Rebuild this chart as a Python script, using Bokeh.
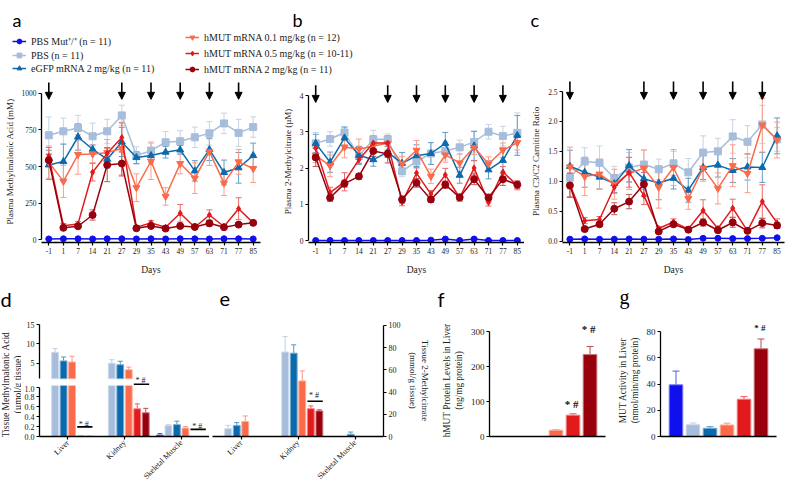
import math
from bokeh.plotting import figure
from bokeh.models import (ColumnDataSource, Whisker, TeeHead, Arrow, NormalHead, Legend,
                          LegendItem, FactorRange, Range1d, FixedTicker, PrintfTickFormatter, Label)
from bokeh.layouts import row, column
from bokeh.embed import file_html
from bokeh.resources import INLINE
from bokeh.core.properties import value

# ------------------------------------------------------------------ data
days = ["-1", "1", "7", "14", "21", "27", "29", "35", "43", "49", "57", "63", "71", "77", "85"]
dose_days = ["-1", "27", "35", "49", "63", "77"]
series_keys = ["mut", "pbs", "egfp", "h01", "h05", "h2"]
series_labels = ["PBS Mut\u207a/\u207a (n = 11)", "PBS (n = 11)", "eGFP mRNA 2 mg/kg (n = 11)",
                 "hMUT mRNA 0.1 mg/kg (n = 12)", "hMUT mRNA 0.5 mg/kg (n = 10-11)",
                 "hMUT mRNA 2 mg/kg (n = 11)"]

# (a) plasma methylmalonic acid
mma_mut = [4, 5, 5, 4, 5, 5, 4, 5, 4, 5, 5, 4, 5, 5, 4]
mma_pbs = [714, 741, 764, 707, 741, 850, 575, 609, 666, 673, 700, 727, 795, 730, 770]
mma_egfp = [511, 534, 702, 618, 550, 668, 561, 575, 598, 614, 470, 616, 459, 491, 575]
mma_h01 = [530, 398, 582, 586, 595, 623, 355, 536, 295, 520, 420, 602, 386, 532, 486]
mma_h05 = [570, 95, 107, 461, 590, 698, 84, 114, 84, 180, 84, 168, 89, 211, 114]
mma_h2 = [543, 80, 91, 168, 511, 520, 77, 93, 75, 93, 86, 111, 84, 102, 114]
mma_err_mut = [2, 2, 2, 2, 2, 2, 2, 2, 2, 2, 2, 2, 2, 2, 2]
mma_err_pbs = [125, 90, 86, 90, 82, 70, 60, 60, 73, 72, 70, 80, 70, 93, 70]
mma_err_egfp = [100, 120, 90, 30, 60, 100, 40, 50, 40, 30, 70, 75, 85, 105, 85]
mma_err_h01 = [110, 110, 135, 60, 90, 180, 95, 125, 60, 70, 105, 95, 85, 85, 95]
mma_err_h05 = [60, 15, 15, 60, 40, 100, 10, 15, 10, 60, 10, 35, 10, 75, 15]
mma_err_h2 = [40, 10, 10, 35, 115, 85, 8, 10, 8, 10, 8, 20, 8, 10, 10]

# (b) plasma 2-methylcitrate
mc_mut = [0.0, 0.0, 0.0, 0.0, 0.0, 0.0, 0.0, 0.0, 0.01, 0.04, 0.0, 0.04, 0.0, 0.0, 0.0]
mc_pbs = [2.68, 2.80, 2.98, 2.33, 2.79, 2.79, 1.91, 2.18, 2.40, 2.47, 2.57, 2.72, 3.00, 2.88, 2.97]
mc_egfp = [2.68, 2.16, 2.83, 2.35, 2.23, 2.44, 2.13, 2.34, 2.40, 2.68, 1.80, 2.61, 1.95, 2.21, 2.90]
mc_h01 = [2.35, 2.06, 2.58, 2.52, 2.61, 2.68, 2.12, 2.49, 1.77, 2.36, 2.14, 2.57, 2.11, 2.49, 2.70]
mc_h05 = [2.55, 1.32, 1.62, 2.23, 2.69, 2.69, 1.06, 1.86, 1.28, 1.81, 1.18, 2.00, 1.05, 1.89, 1.52]
mc_h2 = [2.29, 1.18, 1.57, 1.77, 2.47, 2.39, 1.13, 1.59, 1.13, 1.54, 1.19, 1.69, 1.18, 1.69, 1.54]
mc_err_mut = [0.01, 0.01, 0.01, 0.01, 0.01, 0.01, 0.01, 0.01, 0.01, 0.02, 0.01, 0.02, 0.01, 0.01, 0.01]
mc_err_pbs = [0.3, 0.2, 0.15, 0.2, 0.25, 0.15, 0.15, 0.2, 0.3, 0.25, 0.2, 0.3, 0.2, 0.27, 0.55]
mc_err_egfp = [0.25, 0.28, 0.3, 0.25, 0.18, 0.15, 0.3, 0.3, 0.3, 0.3, 0.22, 0.4, 0.25, 0.35, 0.55]
mc_err_h01 = [0.2, 0.3, 0.3, 0.28, 0.2, 0.2, 0.2, 0.27, 0.2, 0.2, 0.25, 0.2, 0.2, 0.2, 0.2]
mc_err_h05 = [0.2, 0.15, 0.25, 0.1, 0.2, 0.2, 0.1, 0.15, 0.1, 0.18, 0.1, 0.2, 0.1, 0.15, 0.12]
mc_err_h2 = [0.25, 0.1, 0.1, 0.08, 0.15, 0.25, 0.1, 0.12, 0.08, 0.1, 0.08, 0.15, 0.1, 0.17, 0.1]

# (c) plasma C3/C2 carnitine ratio
cr_mut = [0.03, 0.035, 0.03, 0.03, 0.035, 0.03, 0.03, 0.035, 0.025, 0.045, 0.045, 0.04, 0.04, 0.045, 0.055]
cr_pbs = [1.06, 1.33, 1.31, 1.05, 1.23, 1.28, 1.20, 1.30, 1.15, 1.48, 1.50, 1.75, 1.66, 1.95, 1.70]
cr_egfp = [1.25, 1.15, 1.07, 0.96, 1.26, 1.04, 0.97, 1.05, 0.85, 1.23, 1.27, 1.18, 1.24, 1.23, 1.76]
cr_h01 = [1.24, 1.08, 1.12, 0.95, 1.13, 1.22, 0.90, 1.23, 0.71, 1.22, 0.88, 1.26, 1.13, 1.94, 1.69]
cr_h05 = [0.94, 0.34, 0.36, 0.90, 1.15, 0.76, 0.21, 0.32, 0.20, 0.51, 0.21, 0.55, 0.17, 0.66, 0.30]
cr_h2 = [0.93, 0.20, 0.28, 0.54, 0.66, 0.95, 0.16, 0.28, 0.19, 0.31, 0.18, 0.31, 0.17, 0.30, 0.26]
cr_err_mut = [0.005, 0.005, 0.005, 0.005, 0.005, 0.005, 0.005, 0.005, 0.005, 0.01, 0.01, 0.01, 0.01, 0.01, 0.01]
cr_err_pbs = [0.2, 0.23, 0.28, 0.2, 0.25, 0.25, 0.17, 0.2, 0.23, 0.28, 0.22, 0.28, 0.27, 0.32, 0.2]
cr_err_egfp = [0.27, 0.25, 0.2, 0.15, 0.27, 0.17, 0.28, 0.18, 0.2, 0.2, 0.2, 0.2, 0.22, 0.25, 0.3]
cr_err_h01 = [0.33, 0.32, 0.25, 0.25, 0.27, 0.3, 0.35, 0.3, 0.18, 0.22, 0.26, 0.35, 0.32, 0.45, 0.3]
cr_err_h05 = [0.2, 0.05, 0.05, 0.1, 0.25, 0.15, 0.03, 0.05, 0.03, 0.18, 0.03, 0.15, 0.02, 0.28, 0.07]
cr_err_h2 = [0.2, 0.03, 0.03, 0.1, 0.12, 0.2, 0.03, 0.04, 0.03, 0.06, 0.03, 0.08, 0.02, 0.08, 0.05]

# (d) tissue methylmalonic acid, per tissue
tissues = ["Liver", "Kidney", "Skeletal Muscle"]
tmma_mut = [0.0, 0.0, 0.03]
tmma_pbs = [7.8, 5.0, 0.22]
tmma_egfp = [5.6, 4.6, 0.24]
tmma_h01 = [5.3, 3.3, 0.17]
tmma_h05 = [0.012, 0.56, 0.0]
tmma_h2 = [0.006, 0.48, 0.0]
tmma_err_mut = [0.0, 0.0, 0.03]
tmma_err_pbs = [1.0, 0.9, 0.02]
tmma_err_egfp = [1.0, 0.9, 0.07]
tmma_err_h01 = [1.5, 0.7, 0.03]
tmma_err_h05 = [0.0, 0.1, 0.0]
tmma_err_h2 = [0.0, 0.09, 0.0]

# (e) tissue 2-methylcitrate
tmc_mut = [0.0, 0.0, 0.0]
tmc_pbs = [7.0, 76.0, 0.0]
tmc_egfp = [10.0, 75.0, 2.0]
tmc_h01 = [13.5, 50.0, 0.0]
tmc_h05 = [0.0, 25.0, 0.0]
tmc_h2 = [0.0, 23.0, 0.0]
tmc_err_mut = [0.0, 0.0, 0.0]
tmc_err_pbs = [3.0, 14.0, 0.0]
tmc_err_egfp = [2.5, 7.5, 2.0]
tmc_err_h01 = [5.0, 9.0, 0.0]
tmc_err_h05 = [0.0, 2.5, 0.0]
tmc_err_h2 = [0.0, 1.0, 0.0]

# (f) hMUT protein in liver (ng/mg protein), (g) MUT activity (nmol/min/mg protein)
protein = [0.0, 0.0, 0.0, 18.0, 61.0, 234.0]
protein_err = [0.0, 0.0, 0.0, 1.5, 4.0, 23.0]
activity = [39.5, 9.0, 6.3, 8.8, 28.5, 67.0]
activity_err = [10.5, 1.3, 1.2, 1.4, 2.0, 7.5]
sig_text = "*  #"

# ------------------------------------------------------------------ styles
SERIF = "Liberation Serif"
SANS = "Lato"
colors = dict(mut="#1010ee", pbs="#a6bddb", egfp="#0b6aad", h01="#fb6a4a", h05="#e31a1c", h2="#99000d")
markers = dict(mut="circle", pbs="square", egfp="triangle", h01="inverted_triangle", h05="diamond", h2="circle")
msizes = dict(mut=6, pbs=7, egfp=7, h01=7, h05=6, h2=7)


def tint(hexc, f):
    h = hexc.lstrip("#")
    rgb = [int(h[i:i + 2], 16) for i in (0, 2, 4)]
    rgb = [int(c + (255 - c) * f) for c in rgb]
    return "#%02x%02x%02x" % tuple(rgb)


def style(p, tick_px="7.5px", label_px="9px"):
    p.grid.visible = False
    p.outline_line_color = None
    for ax in p.axis:
        ax.axis_line_color = "black"
        ax.axis_line_width = 1.3
        ax.major_tick_line_color = "black"
        ax.major_tick_line_width = 1.2
        ax.major_tick_in = 0
        ax.major_tick_out = 3
        ax.minor_tick_line_color = None
        ax.major_label_text_font = SERIF
        ax.major_label_text_font_size = tick_px
        ax.major_label_text_color = "#222222"
        ax.major_label_standoff = 2
        ax.axis_label_text_font = SERIF
        ax.axis_label_text_font_size = label_px
        ax.axis_label_text_font_style = "normal"
        ax.axis_label_text_color = "#222222"
        ax.axis_label_standoff = 4


def blank_fig(w, h, left=0, top=0):
    f = figure(width=w, height=h, x_range=Range1d(0, w), y_range=Range1d(0, h),
               output_backend="svg", toolbar_location=None, min_border=0,
               min_border_left=left, min_border_top=top,
               x_axis_location=None, y_axis_location=None)
    f.grid.visible = False
    f.outline_line_color = None
    return f


def whisker(p, base, y, err, color, both=True, head=6, width=1.0):
    idx = [i for i in range(len(y)) if err[i] > 0]
    if not idx:
        return
    src = ColumnDataSource(dict(base=[base[i] for i in idx],
                                upper=[y[i] + err[i] for i in idx],
                                lower=[(y[i] - err[i]) if both else y[i] for i in idx]))
    w = Whisker(base="base", upper="upper", lower="lower", source=src,
                line_color=color, line_width=width,
                upper_head=TeeHead(size=head, line_color=color, line_width=width),
                lower_head=TeeHead(size=head, line_color=color, line_width=width) if both else None)
    p.add_layout(w)


def line_panel(vals, errs, yrange, yticks, ytop, fmt, ylabel, arrow_y, width, left, right):
    p = figure(width=width, height=200, x_range=FactorRange(*days), y_range=Range1d(*yrange),
               output_backend="svg", toolbar_location=None,
               min_border_left=left, min_border_right=right, min_border_top=3, min_border_bottom=35)
    for k in ["pbs", "egfp", "h01", "h05", "h2", "mut"]:
        c = colors[k]
        whisker(p, days, vals[k], errs[k], tint(c, 0.35), both=True, head=6)
        src = ColumnDataSource(dict(x=days, y=vals[k]))
        p.line("x", "y", source=src, line_color=c, line_width=1.5)
        p.scatter("x", "y", source=src, marker=markers[k], size=msizes[k],
                  fill_color=c, line_color=c)
    asrc = ColumnDataSource(dict(x=dose_days, y0=[arrow_y[0]] * len(dose_days),
                                 y1=[arrow_y[1]] * len(dose_days)))
    p.add_layout(Arrow(x_start="x", y_start="y0", x_end="x", y_end="y1", source=asrc,
                       line_color="black", line_width=1.6,
                       end=NormalHead(size=7, fill_color="black", line_color="black")))
    p.yaxis.ticker = FixedTicker(ticks=yticks)
    p.yaxis.bounds = (0, ytop)
    if fmt:
        p.yaxis.formatter = PrintfTickFormatter(format=fmt)
    p.xaxis.axis_label = "Days"
    p.yaxis.axis_label = ylabel
    style(p, "7.5px", "9px")
    p.xaxis.axis_label_text_font_size = "9.5px"
    p.xaxis.axis_label_standoff = 8
    return p


# ------------------------------------------------------------------ header (letters + legends)
def letter(f, txt, x, y, font=SANS, size="19px"):
    f.add_layout(Label(x=x, y=y, text=txt, text_font=font, text_font_size=size,
                       text_baseline="alphabetic", text_color="black"))


def legend_fig(w, h, left, keys, sp):
    f = blank_fig(w, h, left=left)
    its = []
    nan = float("nan")
    for k in keys:
        proxy = ColumnDataSource(dict(x=[nan], y=[nan]))
        lr = f.line("x", "y", source=proxy, line_color=colors[k], line_width=1.5)
        sr = f.scatter("x", "y", source=proxy, marker=markers[k], size=msizes[k],
                       fill_color=colors[k], line_color=colors[k])
        its.append(LegendItem(label=series_labels[series_keys.index(k)], renderers=[lr, sr]))
    f.add_layout(Legend(items=its, location="top_left", spacing=sp, padding=0, margin=0,
                        border_line_color=None, background_fill_alpha=0,
                        label_height=12, glyph_height=12, glyph_width=14, label_standoff=5,
                        label_text_font=SERIF, label_text_font_size="10px",
                        label_text_color="#222222"))
    return f


hdr_a = blank_fig(185, 34)
letter(hdr_a, "a", 0, 14.5, size="18px")
leg1 = legend_fig(185, 43, 12, series_keys[:3], 1)
hdr_bc = blank_fig(601, 31)
letter(hdr_bc, "b", 107, 11.5, size="18px")
letter(hdr_bc, "c", 345, 11.5, size="18px")
leg2 = legend_fig(601, 46, 0, series_keys[3:], 4)
header = row(column(hdr_a, leg1), column(hdr_bc, leg2))

# ------------------------------------------------------------------ top row
pa = line_panel(dict(mut=mma_mut, pbs=mma_pbs, egfp=mma_egfp, h01=mma_h01, h05=mma_h05, h2=mma_h2),
                dict(mut=mma_err_mut, pbs=mma_err_pbs, egfp=mma_err_egfp, h01=mma_err_h01,
                     h05=mma_err_h05, h2=mma_err_h2),
                (-20.5, 1089), [0, 250, 500, 750, 1000], 1000, None,
                "Plasma Methylmalonic Acid (mM)", (1075, 960), 262, 41, 2)
pb = line_panel(dict(mut=mc_mut, pbs=mc_pbs, egfp=mc_egfp, h01=mc_h01, h05=mc_h05, h2=mc_h2),
                dict(mut=mc_err_mut, pbs=mc_err_pbs, egfp=mc_err_egfp, h01=mc_err_h01,
                     h05=mc_err_h05, h2=mc_err_h2),
                (-0.055, 4.414), [0, 1, 2, 3, 4], 4, None,
                "Plasma 2-Methylcitrate (\u00b5M)", (4.28, 3.81), 262, 46, 0)
pc = line_panel(dict(mut=cr_mut, pbs=cr_pbs, egfp=cr_egfp, h01=cr_h01, h05=cr_h05, h2=cr_h2),
                dict(mut=cr_err_mut, pbs=cr_err_pbs, egfp=cr_err_egfp, h01=cr_err_h01,
                     h05=cr_err_h05, h2=cr_err_h2),
                (-0.025, 2.686), [0, 0.5, 1.0, 1.5, 2.0, 2.5], 2.5, "%.1f",
                "Plasma C3/C2 Carnitine Ratio", (2.67, 2.37), 262, 38, 2)

# ------------------------------------------------------------------ letters row for bottom panels
letters = blank_fig(786, 32)
letter(letters, "d", 0, 11, size="20px")
letter(letters, "e", 219, 11, size="20px")
letter(letters, "f", 437, 11, size="20px")
letter(letters, "g", 619, 13, font=SERIF, size="20px")

# ------------------------------------------------------------------ grouped bar helpers
STEP = 0.15
BAR_W = 0.12
tick_map = {i: t for i, t in enumerate(tissues)}


def grouped_bars(p, vals, errs, keep, bottom, wkeep):
    for i, k in enumerate(series_keys):
        off = (i - 2.5) * STEP
        xs = [g + off for g in range(len(tissues))]
        v, e = vals[k], errs[k]
        sel = [j for j in range(len(v)) if keep(v[j])]
        if sel:
            src = ColumnDataSource(dict(x=[xs[j] for j in sel], top=[v[j] for j in sel]))
            p.vbar(x="x", top="top", bottom=bottom, width=BAR_W, source=src,
                   fill_color=colors[k], line_color=tint(colors[k], 0.45), line_width=1)
        wsel = [j for j in range(len(v)) if wkeep(v[j]) and e[j] > 0]
        whisker(p, [xs[j] for j in wsel], [v[j] for j in wsel], [e[j] for j in wsel],
                tint(colors[k], 0.3), both=False, head=5)


def sig_bracket(p, g, y_line, y_text, size="8px"):
    x0 = g + (series_keys.index("h05") - 2.5) * STEP - BAR_W / 2
    x1 = g + (series_keys.index("h2") - 2.5) * STEP + BAR_W / 2
    p.segment(x0=[x0], y0=[y_line], x1=[x1], y1=[y_line], line_color="black", line_width=1.6)
    p.text(x=[(x0 + x1) / 2], y=[y_text], text=[sig_text], text_font=value(SERIF),
           text_font_size=size, text_align="center", text_baseline="alphabetic", text_color="#222222")


def tissue_xaxis(p):
    p.xaxis.ticker = FixedTicker(ticks=list(range(len(tissues))))
    p.xaxis.major_label_overrides = tick_map
    p.xaxis.major_label_orientation = math.pi / 4


tm_vals = dict(mut=tmma_mut, pbs=tmma_pbs, egfp=tmma_egfp, h01=tmma_h01, h05=tmma_h05, h2=tmma_h2)
tm_errs = dict(mut=tmma_err_mut, pbs=tmma_err_pbs, egfp=tmma_err_egfp, h01=tmma_err_h01,
               h05=tmma_err_h05, h2=tmma_err_h2)
d_xr = Range1d(-0.5, 2.5)

# (d) upper part of broken axis
dup = figure(width=188, height=76, x_range=d_xr, y_range=Range1d(-0.76, 15),
             output_backend="svg", toolbar_location=None, x_axis_location=None,
             min_border_left=16, min_border_right=0, min_border_top=15, min_border_bottom=0)
grouped_bars(dup, tm_vals, tm_errs, keep=lambda v: v > 1, bottom=1, wkeep=lambda v: v > 1)
sig_bracket(dup, tissues.index("Kidney"), -0.45, 0.45)
dup.yaxis.ticker = FixedTicker(ticks=[5, 10, 15])
dup.yaxis.bounds = (1, 15)
style(dup, "8px", "9.5px")

# (d) lower part
dlow = figure(width=188, height=102, x_range=d_xr, y_range=Range1d(0, 1.032),
              output_backend="svg", toolbar_location=None,
              min_border_left=16, min_border_right=0, min_border_top=0, min_border_bottom=47)
grouped_bars(dlow, tm_vals, tm_errs, keep=lambda v: v > 0, bottom=0, wkeep=lambda v: v <= 1)
sig_bracket(dlow, tissues.index("Liver"), 0.195, 0.24)
sig_bracket(dlow, tissues.index("Skeletal Muscle"), 0.144, 0.21)
dlow.yaxis.ticker = FixedTicker(ticks=[0, 0.2, 0.4, 0.6, 0.8, 1.0])
dlow.yaxis.formatter = PrintfTickFormatter(format="%.1f")
dlow.yaxis.bounds = (0, 1)
tissue_xaxis(dlow)
style(dlow, "8px", "9.5px")

# (d) shared y title
dtitle = blank_fig(21, 178)
dtitle.add_layout(Label(x=11, y=103, text="Tissue Methylmalonic Acid\n(\u00b5mol/g tissue)",
                        angle=math.pi / 2, text_align="center", text_baseline="middle",
                        text_font=SERIF, text_font_size="9.5px", text_color="#222222"))

# (e)
pe = figure(width=223, height=178, x_range=Range1d(-0.5, 2.5), y_range=Range1d(0, 100.8),
            output_backend="svg", toolbar_location=None, y_axis_location="right",
            min_border_left=3, min_border_right=45, min_border_top=15, min_border_bottom=47)
grouped_bars(pe, dict(mut=tmc_mut, pbs=tmc_pbs, egfp=tmc_egfp, h01=tmc_h01, h05=tmc_h05, h2=tmc_h2),
             dict(mut=tmc_err_mut, pbs=tmc_err_pbs, egfp=tmc_err_egfp, h01=tmc_err_h01,
                  h05=tmc_err_h05, h2=tmc_err_h2),
             keep=lambda v: v > 0, bottom=0, wkeep=lambda v: True)
sig_bracket(pe, tissues.index("Kidney"), 31.7, 37)
pe.yaxis.ticker = FixedTicker(ticks=[0, 20, 40, 60, 80, 100])
pe.yaxis.bounds = (0, 100)
pe.yaxis.axis_label = "Tissue 2-Methylcitrate\n(mmol/g tissue)"
tissue_xaxis(pe)
style(pe, "8px", "9px")


# (f), (g)
PAD = 0.41


def single_bars(vals, errs, yr, ticks, ytop, ylabel, sig_idx, sig_y, sig_size, width, left, right):
    n = len(series_keys)
    p = figure(width=width, height=178,
               x_range=Range1d(-0.5 - PAD, n - 0.5 + PAD),
               y_range=Range1d(*yr), output_backend="svg", toolbar_location=None,
               min_border_left=left, min_border_right=right, min_border_top=4, min_border_bottom=47)
    xs = list(range(n))
    sel = [i for i in range(n) if vals[i] > 0]
    for i in sel:
        k = series_keys[i]
        p.vbar(x=[xs[i]], top=[vals[i]], width=0.8, fill_color=colors[k],
               line_color=tint(colors[k], 0.45), line_width=1)
        whisker(p, [xs[i]], [vals[i]], [errs[i]], tint(colors[k], 0.3), both=False, head=7)
    p.text(x=[xs[i] for i in sig_idx], y=sig_y, text=[sig_text] * len(sig_idx),
           text_font=value(SERIF), text_font_size=sig_size, text_font_style="bold",
           text_align="center", text_baseline="alphabetic", text_color="#111111")
    p.yaxis.ticker = FixedTicker(ticks=ticks)
    p.yaxis.bounds = (0, ytop)
    p.yaxis.axis_label = ylabel
    p.xaxis.ticker = FixedTicker(ticks=[])
    style(p, "9px", "9.3px")
    return p


pf = single_bars(protein, protein_err, (0, 320), [0, 100, 200, 300], 300,
                 "hMUT Protein Levels in Liver\n(ng/mg protein)",
                 [series_keys.index("h05"), series_keys.index("h2")], [93, 306], "11px", 175, 57, 2)
pg = single_bars(activity, activity_err, (0, 85.6), [0, 20, 40, 60, 80], 80,
                 "MUT Activity in Liver\n(nmol/min/mg protein)",
                 [series_keys.index("h2")], [82.7], "9px", 179, 53, 10)

# ------------------------------------------------------------------ layout
top = row(pa, pb, pc)
bottom = row(row(dtitle, column(dup, dlow)), pe, pf, pg)
layout = column(header, top, letters, bottom)

open("out.html", "w").write(file_html(layout, INLINE))
